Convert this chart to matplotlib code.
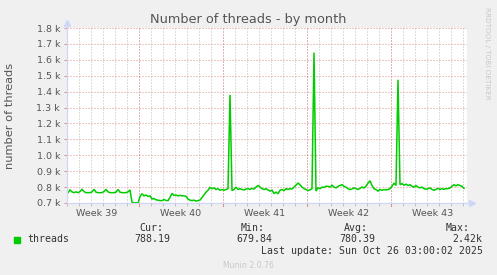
import matplotlib
matplotlib.use("Agg")
import matplotlib.pyplot as plt
import matplotlib.dates as mdates
import numpy as np
import pandas as pd

# ---- data ----
start_time = "2025-09-23 02:00"
step = "4h"
threads = [
    765, 782, 770, 765, 770, 765, 772, 786, 772, 765,
    765, 765, 770, 786, 768, 765, 765, 765, 772, 786,
    770, 765, 765, 765, 768, 785, 768, 765, 765, 765,
    770, 782, 705, 700, 702, 700, 740, 758, 745, 750,
    742, 745, 725, 728, 720, 718, 715, 715, 722, 716,
    715, 735, 760, 748, 750, 745, 748, 745, 745, 742,
    725, 718, 715, 718, 712, 715, 718, 735, 752, 768,
    780, 798, 790, 795, 785, 790, 780, 785, 780, 785,
    790, 1380, 778, 785, 800, 785, 790, 785, 782, 788,
    790, 785, 792, 788, 800, 810, 800, 790, 785, 790,
    782, 775, 780, 760, 768, 758, 780, 785, 778, 790,
    785, 790, 788, 800, 812, 825, 815, 800, 790, 785,
    778, 782, 790, 1645, 775, 795, 790, 800, 798, 805,
    805, 800, 812, 800, 795, 805, 810, 815, 805, 800,
    790, 785, 788, 795, 790, 785, 792, 800, 795, 805,
    825, 840, 810, 790, 785, 775, 785, 780, 785, 782,
    785, 790, 805, 825, 810, 1475, 815, 822, 812, 818,
    810, 815, 805, 800, 810, 800, 795, 800, 790, 786,
    790, 795, 785, 780, 786, 792, 785, 790, 786, 790,
    790, 795, 805, 815, 808, 815, 810, 805, 792,
]
x_start = "2025-09-23 00:00"
x_end = "2025-10-26 08:00"
week_labels = ["Week 39", "Week 40", "Week 41", "Week 42", "Week 43"]
week_label_times = ["2025-09-25 12:00", "2025-10-02 12:00", "2025-10-09 12:00",
                    "2025-10-16 12:00", "2025-10-23 12:00"]
week_starts = ["2025-09-29", "2025-10-06", "2025-10-13", "2025-10-20"]
y_ticks = [700, 800, 900, 1000, 1100, 1200, 1300, 1400, 1500, 1600, 1700, 1800]
stat_names = ["Cur:", "Min:", "Avg:", "Max:"]
stat_values = ["788.19", "679.84", "780.39", "2.42k"]
series_name = "threads"
title = "Number of threads - by month"
ylabel = "number of threads"
last_update = "Last update: Sun Oct 26 03:00:02 2025"

# ---- styling ----
BG = "#F0F0F0"
GREEN = "#00CC00"
AXISC = "#CFD6F8"
MGRID = "#E08C8C"
GRID = "#BDBDBD"
FONTC = "#555555"
DOT = (0, (1, 2))

W, H = 497, 275
fig = plt.figure(figsize=(W / 100, H / 100), dpi=100, facecolor=BG)
L, R, T, B = 67, 467, 28, 203
ax = fig.add_axes([L / W, (H - B) / H, (R - L) / W, (B - T) / H])
ax.set_facecolor("white")

times = pd.date_range(start_time, periods=len(threads), freq=step)
ax.plot(times, threads, color=GREEN, lw=1.1, solid_joinstyle="miter", zorder=5)

ax.set_xlim(pd.Timestamp(x_start), pd.Timestamp(x_end))
ax.set_ylim(y_ticks[0], y_ticks[-1])

# y axis
ax.set_yticks(y_ticks)
ax.set_yticklabels([f"{v/1000:.1f} k" for v in y_ticks], fontsize=6.8, color=FONTC)
ax.tick_params(axis="y", length=2, width=0.7, color=MGRID, pad=3)
ax.grid(axis="y", which="major", color=MGRID, lw=0.72, ls=DOT, zorder=1)

# x axis
ax.set_xticks([pd.Timestamp(t) for t in week_label_times])
ax.set_xticklabels(week_labels, fontsize=6.8, color=FONTC)
ax.tick_params(axis="x", which="major", length=0, pad=4.5)
ax.xaxis.set_minor_locator(mdates.DayLocator())
ax.tick_params(axis="x", which="minor", length=2, width=0.7, color=GRID)
ax.grid(axis="x", which="minor", color=GRID, lw=0.72, ls=DOT, zorder=1)
for ws in week_starts:
    ax.axvline(pd.Timestamp(ws), color=MGRID, lw=0.72, ls=DOT, zorder=2)
    ax.plot([pd.Timestamp(ws)] * 2, [0, -0.018], transform=ax.get_xaxis_transform(),
            color=MGRID, lw=0.8, clip_on=False)

for s in ["top", "right"]:
    ax.spines[s].set_visible(False)
for s in ["left", "bottom"]:
    ax.spines[s].set_color(AXISC)
    ax.spines[s].set_linewidth(0.9)
    ax.spines[s].set_zorder(6)

# arrows
ax.plot([0], [1.03], marker="^", ms=4, color=AXISC, transform=ax.transAxes,
        clip_on=False, zorder=7)
ax.plot([0, 0], [1.0, 1.03], color=AXISC, lw=0.9, transform=ax.transAxes, clip_on=False)
ax.plot([1.012], [0], marker=">", ms=4, color=AXISC, transform=ax.transAxes,
        clip_on=False, zorder=7)
ax.plot([1.0, 1.012], [0, 0], color=AXISC, lw=0.9, transform=ax.transAxes, clip_on=False)

# texts
fig.text(248 / W, (H - 19) / H, title, ha="center", va="center", fontsize=9.3, color=FONTC)
fig.text(10 / W, (H - 115.5) / H, ylabel, ha="center", va="center", rotation=90,
         fontsize=8.2, color=FONTC)
fig.text(487 / W, (H - 53) / H, "RRDTOOL / TOBI OETIKER", ha="center", va="center",
         rotation=-90, fontsize=5.2, color="#C8C8C8")

mono = "DejaVu Sans Mono"
fs = 7.1
TXT = "#333333"
fig.patches.append(plt.Rectangle((14 / W, (H - 242.5) / H), 5.5 / W, 5.5 / H,
                                 transform=fig.transFigure, color=GREEN, figure=fig))
fig.text(27 / W, (H - 239.5) / H, series_name, ha="left", va="center",
         family=mono, fontsize=fs, color=TXT)
name_right = [163, 265, 368, 470]
val_right = [170, 272, 375, 482]
for n, v, nr, vr in zip(stat_names, stat_values, name_right, val_right):
    fig.text(nr / W, (H - 228) / H, n, ha="right", va="center", family=mono,
             fontsize=fs, color=TXT)
    fig.text(vr / W, (H - 239.5) / H, v, ha="right", va="center", family=mono,
             fontsize=fs, color=TXT)
fig.text(483 / W, (H - 251) / H, last_update, ha="right", va="center", family=mono,
         fontsize=fs, color=TXT)
fig.text(248 / W, (H - 265) / H, "Munin 2.0.76", ha="center", va="center",
         fontsize=5.6, color="#C8C8C8")

fig.savefig("out.png", dpi=100, facecolor=BG)
